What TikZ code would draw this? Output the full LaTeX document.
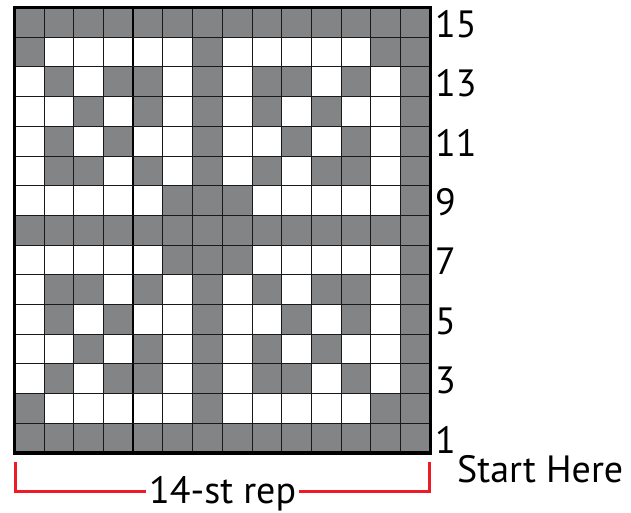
\documentclass[tikz,border=0pt]{standalone}
\usepackage{fontspec}
\setmainfont{PT Sans}
\definecolor{cellgray}{RGB}{131,132,134}
\definecolor{repred}{RGB}{237,28,36}
\begin{document}
\begin{tikzpicture}[x=1pt,y=-1pt,
  lbl/.style={font=\fontsize{38}{42}\selectfont, inner sep=0pt, anchor=base west},
  gridline/.style={line width=0.9pt, black!90},
  majorline/.style={line width=1.8pt, black},
  border/.style={line width=3.5pt, black},
  repline/.style={line width=3pt, repred}]
\useasboundingbox (0,0) rectangle (631,513);
% cells (top row = row 15)
\foreach \rowpat [count=\r from 0] in {
  {1,1,1,1,1,1,1,1,1,1,1,1,1,1},
  {1,0,0,0,0,0,1,0,0,0,0,0,1,1},
  {0,1,0,1,1,0,1,0,1,1,0,1,0,1},
  {0,0,1,0,1,0,1,0,1,0,1,0,0,1},
  {0,1,0,1,0,0,1,0,0,1,0,1,0,1},
  {0,1,1,0,1,0,1,0,1,0,1,1,0,1},
  {0,0,0,0,0,1,1,1,0,0,0,0,0,1},
  {1,1,1,1,1,1,1,1,1,1,1,1,1,1},
  {0,0,0,0,0,1,1,1,0,0,0,0,0,1},
  {0,1,1,0,1,0,1,0,1,0,1,1,0,1},
  {0,1,0,1,0,0,1,0,0,1,0,1,0,1},
  {0,0,1,0,1,0,1,0,1,0,1,0,0,1},
  {0,1,0,1,1,0,1,0,1,1,0,1,0,1},
  {1,0,0,0,0,0,1,0,0,0,0,0,1,1},
  {1,1,1,1,1,1,1,1,1,1,1,1,1,1}} {
  \foreach \v [count=\c from 0] in \rowpat {
    \ifnum\v=1
      \fill[cellgray] ({14.3+\c*29.72},{7.5+\r*29.7}) rectangle +(29.72,29.7);
    \fi
  }
}
% grid lines
\foreach \c in {1,2,3,5,6,7,8,9,10,11,12,13}
  \draw[gridline] ({14.3+\c*29.72},7.5) -- ({14.3+\c*29.72},453);
\draw[majorline] ({14.3+4*29.72},7.5) -- ({14.3+4*29.72},453);
\foreach \r in {1,...,14}
  \draw[gridline] (14.3,{7.5+\r*29.7}) -- (430.4,{7.5+\r*29.7});
\draw[border] (14.3,7.5) rectangle (430.4,453);
% row numbers
\foreach \n in {1,3,...,15}
  \node[lbl] (r\n) at (435,{453-(\n-0.5)*29.7+15}) {\n};
\node[lbl] (start) at (457,482) {Start Here};
\node[lbl] (rep) at (149,503) {14-st rep};
% bracket
\coordinate (bl) at (15,462);
\coordinate (br) at (429.5,462);
\coordinate (ly) at (0,491);
\draw[repline] (bl) |- ([xshift=-3pt]rep.west |- ly);
\draw[repline] (br) |- ([xshift=3pt]rep.east |- ly);
\end{tikzpicture}
\end{document}
